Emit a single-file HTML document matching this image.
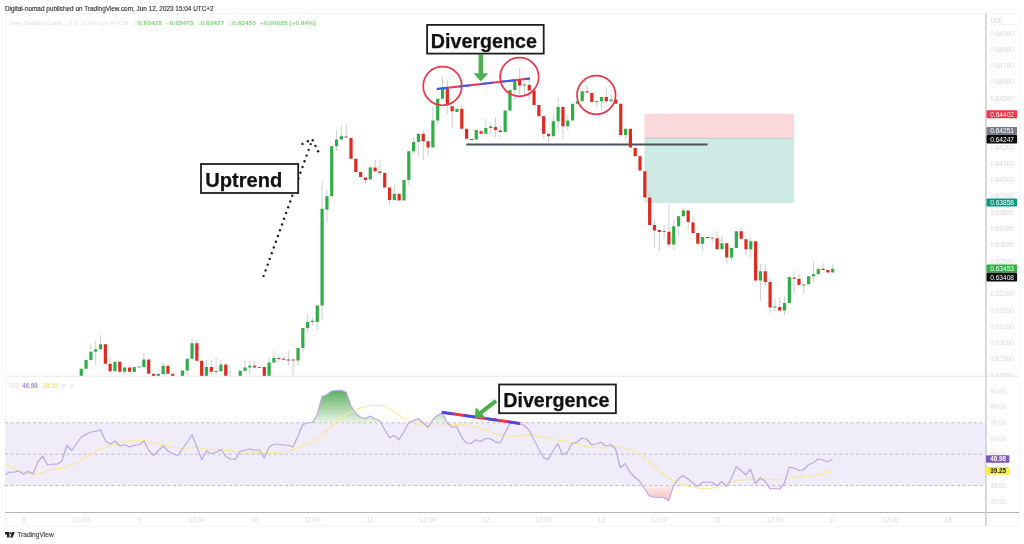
<!DOCTYPE html>
<html><head><meta charset="utf-8"><title>chart</title>
<style>
html,body{margin:0;padding:0;background:#fff;}
body{width:1024px;height:544px;overflow:hidden;font-family:"Liberation Sans",sans-serif;}
svg{display:block;filter:blur(0.55px);}
text{font-family:"Liberation Sans",sans-serif;}
</style></head><body>
<svg width="1024" height="544" viewBox="0 0 1024 544">
<defs>
<linearGradient id="og" x1="0" y1="390" x2="0" y2="422.75" gradientUnits="userSpaceOnUse"><stop offset="0" stop-color="#5aae5e"/><stop offset="1" stop-color="#e9f5e6"/></linearGradient>
<linearGradient id="ug" x1="0" y1="485.5" x2="0" y2="501" gradientUnits="userSpaceOnUse"><stop offset="0" stop-color="#fdeeee"/><stop offset="1" stop-color="#f7b9bd"/></linearGradient>
<clipPath id="cp"><rect x="5" y="14" width="981" height="362"/></clipPath>
<clipPath id="c70"><rect x="5" y="376" width="981" height="46.75"/></clipPath>
<clipPath id="c30"><rect x="5" y="485.5" width="981" height="26.5"/></clipPath>
</defs>
<rect width="1024" height="544" fill="#fff"/>
<!-- frame -->
<rect x="5.5" y="13.5" width="1013.5" height="512.5" fill="none" stroke="#f4f4f7" stroke-width="1"/>
<line x1="5" y1="376.3" x2="1019" y2="376.3" stroke="#eeeef2" stroke-width="1"/>
<line x1="985.9" y1="13.5" x2="985.9" y2="526" stroke="#d6d6da" stroke-width="1.5"/>
<line x1="5" y1="512.5" x2="1019" y2="512.5" stroke="#b4b5b9" stroke-width="1.1"/>
<!-- header -->
<text x="5" y="11.3" font-size="6.5" fill="#2a2a2a" stroke="#2a2a2a" stroke-width="0.12" textLength="208.6" lengthAdjust="spacingAndGlyphs">Digital-nomad published on TradingView.com, Jun 12, 2023 15:04 UTC+2</text>
<g font-size="6" fill="#dddde1" lengthAdjust="spacingAndGlyphs"><text x="9.3" y="24.7" textLength="119" lengthAdjust="spacingAndGlyphs">New Zealand Dollar / U.S. Dollar, 1h, FXCM</text>
<text x="133.6" y="24.7">O</text><text x="166" y="24.7">H</text><text x="197.4" y="24.7">L</text><text x="228.2" y="24.7">C</text></g>
<g font-size="6" fill="#74d873" font-weight="bold"><text x="138" y="24.7" textLength="24" lengthAdjust="spacingAndGlyphs">0.63428</text><text x="169.7" y="24.7" textLength="23.8" lengthAdjust="spacingAndGlyphs">0.63473</text><text x="200.4" y="24.7" textLength="23.8" lengthAdjust="spacingAndGlyphs">0.63427</text><text x="232.3" y="24.7" textLength="23.6" lengthAdjust="spacingAndGlyphs">0.63453</text><text x="260.1" y="24.7" textLength="55.8" lengthAdjust="spacingAndGlyphs">+0.00025 (+0.04%)</text></g>
<!-- position tool -->
<rect x="644.5" y="113.75" width="149.5" height="24.5" fill="#fbd8dc"/>
<rect x="644.5" y="138.25" width="149.5" height="64.75" fill="#cdeae4"/>
<line x1="644.5" y1="138.25" x2="794" y2="138.25" stroke="#b9bfc4" stroke-width="0.8"/>
<!-- support line -->
<line x1="466.3" y1="144.4" x2="707.5" y2="144.4" stroke="#4b5058" stroke-width="2"/>
<!-- candles -->
<g clip-path="url(#cp)">
<path d="M90.88 344.50V360.00M95.70 341.00V365.00M100.52 335.00V350.00M110.15 358.00V375.00M124.60 367.50V375.00M143.87 353.00V367.50M163.14 362.50V374.25M187.22 358.75V375.00M192.04 337.50V358.75M196.86 340.00V360.75M206.49 360.00V376.00M211.31 359.50V375.00M216.13 357.00V375.00M220.94 360.00V371.25M230.58 370.75V376.00M245.03 359.50V370.75M249.84 361.00V375.00M254.66 361.00V368.75M269.11 357.50V376.00M273.93 351.00V363.75M278.75 356.00V362.50M283.56 357.00V360.00M288.38 351.00V365.50M293.20 358.75V375.00M298.01 348.00V366.00M302.83 328.00V353.00M307.65 313.75V333.75M312.47 318.00V325.00M317.28 305.50V330.00M322.10 181.00V318.75M326.92 190.00V222.50M336.55 130.00V151.00M341.37 126.00V140.00M346.19 123.75V137.50M365.45 177.50V183.75M370.27 165.00V179.50M375.09 160.00V172.50M379.90 159.50V175.00M389.54 187.50V205.00M394.36 185.00V201.00M408.81 151.25V185.00M413.62 137.50V153.75M418.44 133.75V156.00M423.26 130.00V160.00M428.07 141.25V156.00M432.89 107.50V147.50M437.71 98.75V125.00M442.53 77.50V100.00M447.34 80.00V113.75M452.16 106.25V128.75M461.79 105.00V128.75M481.06 130.00V133.75M485.88 118.75V133.75M490.69 123.75V133.75M495.51 117.50V137.50M500.33 126.25V137.50M509.96 90.00V111.25M514.78 80.00V100.00M519.60 67.50V95.00M524.41 77.50V95.00M529.23 80.00V100.00M543.68 116.25V138.75M548.50 133.75V142.50M553.32 113.75V136.25M558.13 97.50V130.00M562.95 107.00V138.75M567.77 115.00V130.00M582.22 87.50V101.25M587.04 83.75V92.50M596.67 101.00V106.25M601.49 97.00V110.00M606.30 87.50V102.50M611.12 93.75V101.25M620.75 103.75V137.50M625.57 128.75V138.75M649.66 191.00V225.00M654.47 218.75V247.50M659.29 230.00V251.25M664.11 225.00V238.75M668.92 203.75V247.50M673.74 220.00V250.00M678.56 216.25V237.50M683.38 207.50V216.25M688.19 210.50V230.00M693.01 216.25V233.00M702.64 237.00V251.25M712.28 237.50V242.50M717.09 231.25V249.25M721.91 236.25V249.25M726.73 243.25V263.75M731.55 248.00V260.00M741.18 227.50V238.75M746.00 239.25V255.50M750.81 237.50V258.75M760.45 263.75V301.25M765.26 263.75V286.25M770.08 278.75V312.50M774.90 298.75V311.25M779.72 297.50V311.25M784.53 296.25V315.00M794.17 271.25V293.75M798.98 273.75V285.00M803.80 284.50V293.75M813.43 261.25V282.50M823.07 263.25V270.00M832.70 264.50V272.50" stroke="#cdcfd3" stroke-width="1" fill="none"/>
<path d="M79.65 368.75h3.2v7.25h-3.2zM84.47 360.00h3.2v8.75h-3.2zM89.28 351.75h3.2v8.25h-3.2zM94.10 349.25h3.2v2.50h-3.2zM98.92 344.25h3.2v5.00h-3.2zM113.37 361.75h3.2v9.50h-3.2zM123.00 367.50h3.2v4.25h-3.2zM132.64 367.00h3.2v5.00h-3.2zM137.45 366.50h3.2v1.00h-3.2zM142.27 359.50h3.2v7.50h-3.2zM156.72 373.75h3.2v2.25h-3.2zM161.54 365.75h3.2v8.50h-3.2zM180.81 370.50h3.2v5.50h-3.2zM185.62 358.75h3.2v11.75h-3.2zM190.44 343.25h3.2v15.50h-3.2zM204.89 367.00h3.2v9.00h-3.2zM214.53 371.00h3.2v1.00h-3.2zM219.34 364.50h3.2v6.75h-3.2zM238.61 370.75h3.2v5.25h-3.2zM243.43 367.50h3.2v3.25h-3.2zM248.25 365.75h3.2v1.75h-3.2zM257.88 367.00h3.2v1.00h-3.2zM267.51 362.50h3.2v13.50h-3.2zM272.33 358.00h3.2v4.50h-3.2zM296.41 348.00h3.2v12.50h-3.2zM301.23 328.00h3.2v20.00h-3.2zM306.05 322.00h3.2v6.00h-3.2zM310.87 320.75h3.2v1.25h-3.2zM315.68 305.50h3.2v16.50h-3.2zM320.50 208.75h3.2v96.75h-3.2zM325.32 196.25h3.2v13.25h-3.2zM330.13 146.25h3.2v50.00h-3.2zM334.95 139.50h3.2v6.75h-3.2zM339.77 136.25h3.2v3.25h-3.2zM368.67 167.50h3.2v12.00h-3.2zM392.75 193.75h3.2v6.25h-3.2zM402.39 180.00h3.2v20.50h-3.2zM407.21 151.25h3.2v28.75h-3.2zM412.02 142.00h3.2v9.25h-3.2zM416.84 133.75h3.2v8.25h-3.2zM431.29 120.50h3.2v27.00h-3.2zM436.11 98.75h3.2v21.75h-3.2zM440.93 88.75h3.2v10.00h-3.2zM455.38 108.75h3.2v3.25h-3.2zM474.64 130.00h3.2v9.50h-3.2zM484.28 128.00h3.2v5.75h-3.2zM489.09 126.25h3.2v1.75h-3.2zM503.55 110.50h3.2v21.50h-3.2zM508.36 90.00h3.2v20.50h-3.2zM513.18 80.00h3.2v10.00h-3.2zM522.81 84.50h3.2v1.00h-3.2zM551.72 121.25h3.2v15.00h-3.2zM556.53 107.00h3.2v14.25h-3.2zM566.17 120.50h3.2v5.75h-3.2zM570.98 103.75h3.2v16.75h-3.2zM575.80 101.25h3.2v2.50h-3.2zM580.62 91.25h3.2v10.00h-3.2zM595.07 101.00h3.2v1.00h-3.2zM599.89 97.00h3.2v4.25h-3.2zM609.52 99.50h3.2v1.75h-3.2zM623.97 128.75h3.2v6.25h-3.2zM662.51 231.00h3.2v1.00h-3.2zM672.14 226.25h3.2v18.25h-3.2zM676.96 216.25h3.2v10.00h-3.2zM681.77 210.50h3.2v5.75h-3.2zM701.04 237.00h3.2v6.75h-3.2zM710.68 237.50h3.2v1.00h-3.2zM720.31 243.25h3.2v6.00h-3.2zM729.95 248.00h3.2v9.50h-3.2zM734.76 231.25h3.2v16.75h-3.2zM749.21 241.25h3.2v8.00h-3.2zM758.85 271.25h3.2v9.25h-3.2zM773.30 306.50h3.2v1.00h-3.2zM782.93 303.00h3.2v7.50h-3.2zM787.75 277.00h3.2v26.00h-3.2zM802.20 284.50h3.2v1.00h-3.2zM807.02 276.25h3.2v8.00h-3.2zM811.83 274.25h3.2v2.00h-3.2zM816.65 268.75h3.2v5.50h-3.2zM831.10 268.75h3.2v3.75h-3.2z" fill="#2fae45"/>
<path d="M103.74 344.25h3.2v19.50h-3.2zM108.55 363.75h3.2v7.50h-3.2zM118.19 361.75h3.2v10.00h-3.2zM127.82 367.50h3.2v4.25h-3.2zM147.09 359.50h3.2v14.25h-3.2zM151.91 373.75h3.2v2.25h-3.2zM166.36 365.75h3.2v8.00h-3.2zM171.17 373.75h3.2v2.25h-3.2zM195.26 343.25h3.2v17.50h-3.2zM200.08 360.75h3.2v15.25h-3.2zM209.71 367.00h3.2v4.75h-3.2zM224.16 364.50h3.2v11.50h-3.2zM253.06 365.75h3.2v1.75h-3.2zM262.70 367.00h3.2v9.00h-3.2zM277.15 358.00h3.2v1.00h-3.2zM281.96 358.75h3.2v1.00h-3.2zM286.78 359.50h3.2v1.00h-3.2zM291.60 359.50h3.2v1.00h-3.2zM344.58 136.50h3.2v1.00h-3.2zM349.40 138.00h3.2v20.75h-3.2zM354.22 158.75h3.2v13.25h-3.2zM359.04 172.00h3.2v5.00h-3.2zM363.85 177.50h3.2v2.50h-3.2zM373.49 167.50h3.2v3.75h-3.2zM378.30 171.50h3.2v1.50h-3.2zM383.12 173.00h3.2v14.50h-3.2zM387.94 187.50h3.2v12.50h-3.2zM397.57 193.75h3.2v6.75h-3.2zM421.66 133.75h3.2v7.50h-3.2zM426.47 141.25h3.2v6.25h-3.2zM445.74 88.75h3.2v16.25h-3.2zM450.56 106.25h3.2v5.00h-3.2zM460.19 108.75h3.2v20.00h-3.2zM465.01 128.75h3.2v10.00h-3.2zM469.83 139.00h3.2v1.00h-3.2zM479.46 131.25h3.2v2.50h-3.2zM493.91 127.00h3.2v3.00h-3.2zM498.73 130.50h3.2v1.50h-3.2zM518.00 80.00h3.2v5.50h-3.2zM527.63 85.00h3.2v5.50h-3.2zM532.45 90.50h3.2v14.50h-3.2zM537.26 105.00h3.2v11.25h-3.2zM542.08 116.25h3.2v17.50h-3.2zM546.90 133.75h3.2v2.50h-3.2zM561.35 107.00h3.2v19.25h-3.2zM585.44 91.25h3.2v1.25h-3.2zM590.25 93.00h3.2v9.00h-3.2zM604.70 97.00h3.2v4.25h-3.2zM614.34 99.50h3.2v4.25h-3.2zM619.15 103.75h3.2v31.25h-3.2zM628.79 128.75h3.2v18.75h-3.2zM633.61 148.00h3.2v8.25h-3.2zM638.42 156.25h3.2v14.25h-3.2zM643.24 171.25h3.2v26.25h-3.2zM648.06 197.50h3.2v27.50h-3.2zM652.87 225.00h3.2v5.50h-3.2zM657.69 230.00h3.2v2.00h-3.2zM667.32 231.75h3.2v12.75h-3.2zM686.59 210.50h3.2v11.50h-3.2zM691.41 222.50h3.2v10.50h-3.2zM696.23 233.00h3.2v10.75h-3.2zM705.86 237.00h3.2v1.00h-3.2zM715.49 238.25h3.2v11.00h-3.2zM725.13 243.25h3.2v14.25h-3.2zM739.58 231.25h3.2v7.50h-3.2zM744.40 239.25h3.2v10.00h-3.2zM754.03 241.25h3.2v39.25h-3.2zM763.66 271.25h3.2v10.75h-3.2zM768.48 282.00h3.2v25.50h-3.2zM778.12 307.00h3.2v3.50h-3.2zM792.57 277.50h3.2v1.25h-3.2zM797.38 278.75h3.2v6.25h-3.2zM821.47 268.75h3.2v1.25h-3.2zM826.28 270.00h3.2v2.50h-3.2z" fill="#df2a20"/>
</g>
<!-- divergence line price -->
<line x1="436.9" y1="89" x2="530" y2="78.5" stroke="#f0334a" stroke-width="1.9"/>
<line x1="436.9" y1="89" x2="530" y2="78.5" stroke="#2f62ff" stroke-width="1.9" stroke-dasharray="11.3 10.7 11.9 10.1 12 8.8 13.8 10.1 10"/>
<!-- circles -->
<g fill="none" stroke="#ec3549" stroke-width="1.7"><circle cx="442.5" cy="86" r="19.3"/><circle cx="519.4" cy="77" r="19.3"/><circle cx="596.3" cy="95" r="19.3"/></g>
<!-- green arrow top -->
<path d="M478.6 54.5h4.6v18.8h5l-7.3 8.3l-7.3-8.3h5z" fill="#4caf50"/>
<!-- dotted arrow -->
<g fill="#1c1c1c"><circle cx="310.70" cy="144.10" r="1.2"/><circle cx="308.65" cy="149.84" r="1.2"/><circle cx="306.60" cy="155.58" r="1.2"/><circle cx="304.55" cy="161.32" r="1.2"/><circle cx="302.50" cy="167.06" r="1.2"/><circle cx="300.45" cy="172.80" r="1.2"/><circle cx="298.40" cy="178.54" r="1.2"/><circle cx="296.35" cy="184.28" r="1.2"/><circle cx="294.30" cy="190.02" r="1.2"/><circle cx="292.25" cy="195.76" r="1.2"/><circle cx="290.20" cy="201.50" r="1.2"/><circle cx="288.15" cy="207.24" r="1.2"/><circle cx="286.10" cy="212.98" r="1.2"/><circle cx="284.05" cy="218.72" r="1.2"/><circle cx="282.00" cy="224.46" r="1.2"/><circle cx="279.95" cy="230.20" r="1.2"/><circle cx="277.90" cy="235.94" r="1.2"/><circle cx="275.85" cy="241.68" r="1.2"/><circle cx="273.80" cy="247.42" r="1.2"/><circle cx="271.75" cy="253.16" r="1.2"/><circle cx="269.70" cy="258.90" r="1.2"/><circle cx="267.65" cy="264.64" r="1.2"/><circle cx="265.60" cy="270.38" r="1.2"/><circle cx="263.55" cy="276.12" r="1.2"/><circle cx="312.70" cy="140.25" r="1.2"/><circle cx="307.90" cy="141.20" r="1.2"/><circle cx="302.50" cy="143.90" r="1.2"/><circle cx="315.50" cy="146.00" r="1.2"/><circle cx="318.10" cy="151.20" r="1.2"/></g>
<!-- labels -->
<g fill="#fff" stroke="#1e1e1e" stroke-width="1.8"><rect x="427.1" y="24.9" width="116.6" height="28.7"/><rect x="201" y="164" width="97.2" height="29"/><rect x="499.1" y="384.5" width="116.8" height="28.7"/></g>
<g font-weight="bold" font-size="19.7" fill="#111" stroke="#111" stroke-width="0.25"><text x="430.8" y="47.7">Divergence</text><text x="205.2" y="187" font-size="20.1">Uptrend</text><text x="503.2" y="406.8">Divergence</text></g>
<!-- RSI -->
<rect x="5" y="422.75" width="980" height="62.75" fill="#f0ecfa"/>
<g clip-path="url(#c70)"><polygon points="5.50,474.75 8.75,472.25 13.75,472.25 18.25,471.00 23.75,474.25 28.25,471.25 33.00,474.00 38.00,461.75 42.75,456.00 47.50,465.00 52.50,464.00 57.25,464.25 62.00,461.00 66.75,445.25 71.75,450.50 76.50,443.50 81.25,437.25 86.25,434.25 91.00,432.00 95.75,431.25 100.50,429.75 105.50,441.00 110.25,444.25 115.00,441.00 119.75,446.00 124.75,444.75 129.50,447.00 134.25,445.25 139.00,444.75 144.00,441.00 148.75,450.25 153.50,455.50 158.50,450.50 163.25,446.00 168.00,451.00 172.75,453.75 177.75,455.50 182.50,449.00 187.25,442.25 192.00,434.75 197.00,447.25 201.75,459.75 206.50,451.00 211.25,453.50 216.25,452.25 221.00,449.50 225.75,456.50 230.50,459.00 235.25,459.50 240.25,451.50 245.00,450.00 250.00,449.00 254.50,450.25 259.25,449.75 264.25,458.00 269.00,447.25 273.75,444.25 278.75,444.25 283.50,445.25 288.25,445.25 293.00,447.00 298.00,436.00 302.75,424.75 307.50,422.75 312.50,422.50 317.25,414.75 322.00,396.50 326.75,394.75 331.75,391.00 336.50,390.50 341.25,390.25 346.25,392.25 351.00,406.00 355.75,413.50 360.50,417.25 365.50,418.50 370.25,416.00 375.00,419.00 379.75,420.50 384.75,429.75 389.50,437.75 394.25,435.50 399.00,439.75 404.00,431.50 408.75,422.75 413.50,420.50 418.25,418.50 423.25,423.00 428.00,427.25 432.75,419.75 437.50,415.25 442.50,413.00 447.25,422.75 452.00,427.25 456.75,426.50 461.50,437.25 466.40,443.00 471.10,443.50 475.90,439.75 480.70,441.50 485.60,438.50 490.40,438.70 495.20,441.80 500.00,443.00 504.75,433.50 509.50,424.00 514.25,422.75 519.25,424.00 524.00,425.25 528.75,429.75 533.50,438.50 538.50,448.50 543.25,457.25 548.00,459.75 553.00,451.00 557.75,443.50 562.50,454.75 567.25,452.25 572.25,443.50 577.00,442.25 581.75,438.00 586.50,439.00 591.50,444.75 596.25,444.00 601.00,442.25 605.75,446.00 610.75,444.75 615.50,448.50 620.25,467.75 625.00,463.50 630.00,472.25 634.75,477.25 639.50,481.00 644.50,488.50 649.25,496.00 654.00,497.25 658.75,497.25 663.75,497.75 668.60,500.50 673.40,486.00 678.20,479.00 683.00,475.50 688.00,479.00 692.75,483.00 697.50,486.50 702.50,482.00 707.25,482.25 712.00,482.25 717.00,486.00 721.75,481.50 726.50,486.50 731.25,478.50 736.25,466.75 741.00,470.50 745.75,474.75 750.50,469.25 755.50,483.50 760.25,478.00 765.00,481.00 770.00,489.00 774.75,488.50 779.50,489.25 784.25,483.50 789.25,467.25 794.00,468.00 798.75,470.50 803.50,469.75 808.50,464.75 813.25,462.75 818.00,459.00 822.75,460.00 827.75,461.75 832.50,459.00 832.5,422.75 5.5,422.75" fill="url(#og)"/></g>
<g clip-path="url(#c30)"><polygon points="5.50,474.75 8.75,472.25 13.75,472.25 18.25,471.00 23.75,474.25 28.25,471.25 33.00,474.00 38.00,461.75 42.75,456.00 47.50,465.00 52.50,464.00 57.25,464.25 62.00,461.00 66.75,445.25 71.75,450.50 76.50,443.50 81.25,437.25 86.25,434.25 91.00,432.00 95.75,431.25 100.50,429.75 105.50,441.00 110.25,444.25 115.00,441.00 119.75,446.00 124.75,444.75 129.50,447.00 134.25,445.25 139.00,444.75 144.00,441.00 148.75,450.25 153.50,455.50 158.50,450.50 163.25,446.00 168.00,451.00 172.75,453.75 177.75,455.50 182.50,449.00 187.25,442.25 192.00,434.75 197.00,447.25 201.75,459.75 206.50,451.00 211.25,453.50 216.25,452.25 221.00,449.50 225.75,456.50 230.50,459.00 235.25,459.50 240.25,451.50 245.00,450.00 250.00,449.00 254.50,450.25 259.25,449.75 264.25,458.00 269.00,447.25 273.75,444.25 278.75,444.25 283.50,445.25 288.25,445.25 293.00,447.00 298.00,436.00 302.75,424.75 307.50,422.75 312.50,422.50 317.25,414.75 322.00,396.50 326.75,394.75 331.75,391.00 336.50,390.50 341.25,390.25 346.25,392.25 351.00,406.00 355.75,413.50 360.50,417.25 365.50,418.50 370.25,416.00 375.00,419.00 379.75,420.50 384.75,429.75 389.50,437.75 394.25,435.50 399.00,439.75 404.00,431.50 408.75,422.75 413.50,420.50 418.25,418.50 423.25,423.00 428.00,427.25 432.75,419.75 437.50,415.25 442.50,413.00 447.25,422.75 452.00,427.25 456.75,426.50 461.50,437.25 466.40,443.00 471.10,443.50 475.90,439.75 480.70,441.50 485.60,438.50 490.40,438.70 495.20,441.80 500.00,443.00 504.75,433.50 509.50,424.00 514.25,422.75 519.25,424.00 524.00,425.25 528.75,429.75 533.50,438.50 538.50,448.50 543.25,457.25 548.00,459.75 553.00,451.00 557.75,443.50 562.50,454.75 567.25,452.25 572.25,443.50 577.00,442.25 581.75,438.00 586.50,439.00 591.50,444.75 596.25,444.00 601.00,442.25 605.75,446.00 610.75,444.75 615.50,448.50 620.25,467.75 625.00,463.50 630.00,472.25 634.75,477.25 639.50,481.00 644.50,488.50 649.25,496.00 654.00,497.25 658.75,497.25 663.75,497.75 668.60,500.50 673.40,486.00 678.20,479.00 683.00,475.50 688.00,479.00 692.75,483.00 697.50,486.50 702.50,482.00 707.25,482.25 712.00,482.25 717.00,486.00 721.75,481.50 726.50,486.50 731.25,478.50 736.25,466.75 741.00,470.50 745.75,474.75 750.50,469.25 755.50,483.50 760.25,478.00 765.00,481.00 770.00,489.00 774.75,488.50 779.50,489.25 784.25,483.50 789.25,467.25 794.00,468.00 798.75,470.50 803.50,469.75 808.50,464.75 813.25,462.75 818.00,459.00 822.75,460.00 827.75,461.75 832.50,459.00 832.5,485.5 5.5,485.5" fill="url(#ug)"/></g>
<g stroke="#b8b9bd" stroke-width="0.9" stroke-dasharray="3 2.6"><line x1="5" y1="422.75" x2="985" y2="422.75"/><line x1="5" y1="454.2" x2="985" y2="454.2"/><line x1="5" y1="485.5" x2="985" y2="485.5"/></g>
<path d="M5.50 464.75C7.08 465.46 11.75 467.75 15.00 469.00C18.25 470.25 21.25 471.38 25.00 472.25C28.75 473.12 33.75 474.58 37.50 474.25C41.25 473.92 43.33 471.29 47.50 470.25C51.67 469.21 57.92 469.12 62.50 468.00C67.08 466.88 70.83 465.50 75.00 463.50C79.17 461.50 83.33 458.38 87.50 456.00C91.67 453.62 95.83 451.00 100.00 449.25C104.17 447.50 108.33 446.75 112.50 445.50C116.67 444.25 120.83 442.54 125.00 441.75C129.17 440.96 134.17 440.96 137.50 440.75C140.83 440.54 142.08 440.12 145.00 440.50C147.92 440.88 150.83 441.96 155.00 443.00C159.17 444.04 165.42 445.83 170.00 446.75C174.58 447.67 178.33 448.38 182.50 448.50C186.67 448.62 190.83 447.42 195.00 447.50C199.17 447.58 203.33 448.58 207.50 449.00C211.67 449.42 215.42 449.62 220.00 450.00C224.58 450.38 230.00 450.95 235.00 451.25C240.00 451.55 245.00 451.55 250.00 451.80C255.00 452.05 260.42 452.68 265.00 452.75C269.58 452.82 273.33 452.62 277.50 452.25C281.67 451.88 285.83 451.62 290.00 450.50C294.17 449.38 298.33 447.29 302.50 445.50C306.67 443.71 310.83 442.38 315.00 439.75C319.17 437.12 323.33 433.29 327.50 429.75C331.67 426.21 335.83 421.62 340.00 418.50C344.17 415.38 348.33 412.96 352.50 411.00C356.67 409.04 360.83 407.67 365.00 406.75C369.17 405.83 374.17 405.54 377.50 405.50C380.83 405.46 382.08 405.38 385.00 406.50C387.92 407.62 391.67 410.17 395.00 412.25C398.33 414.33 401.67 417.12 405.00 419.00C408.33 420.88 411.25 422.38 415.00 423.50C418.75 424.62 423.33 425.41 427.50 425.70C431.67 425.99 435.83 425.41 440.00 425.25C444.17 425.09 448.33 424.81 452.50 424.75C456.67 424.69 460.83 424.48 465.00 424.90C469.17 425.32 473.33 426.15 477.50 427.25C481.67 428.35 485.42 430.04 490.00 431.50C494.58 432.96 500.42 435.25 505.00 436.00C509.58 436.75 513.33 436.21 517.50 436.00C521.67 435.79 525.83 434.54 530.00 434.75C534.17 434.96 538.33 436.42 542.50 437.25C546.67 438.08 550.83 439.00 555.00 439.75C559.17 440.50 563.33 440.92 567.50 441.75C571.67 442.58 575.83 443.83 580.00 444.75C584.17 445.67 588.33 446.75 592.50 447.25C596.67 447.75 600.83 447.83 605.00 447.75C609.17 447.67 613.33 446.42 617.50 446.75C621.67 447.08 625.83 448.21 630.00 449.75C634.17 451.29 638.33 453.08 642.50 456.00C646.67 458.92 650.83 463.71 655.00 467.25C659.17 470.79 663.75 474.62 667.50 477.25C671.25 479.88 674.17 481.54 677.50 483.00C680.83 484.46 684.17 485.17 687.50 486.00C690.83 486.83 694.17 487.58 697.50 488.00C700.83 488.42 704.17 488.62 707.50 488.50C710.83 488.38 714.17 488.00 717.50 487.25C720.83 486.50 724.58 485.04 727.50 484.00C730.42 482.96 732.08 481.71 735.00 481.00C737.92 480.29 741.67 480.04 745.00 479.75C748.33 479.46 751.67 479.38 755.00 479.25C758.33 479.12 761.67 478.92 765.00 479.00C768.33 479.08 771.67 479.71 775.00 479.75C778.33 479.79 781.67 479.67 785.00 479.25C788.33 478.83 791.67 477.67 795.00 477.25C798.33 476.83 801.67 477.04 805.00 476.75C808.33 476.46 811.67 476.12 815.00 475.50C818.33 474.88 822.08 473.75 825.00 473.00C827.92 472.25 831.25 471.33 832.50 471.00" fill="none" stroke="#f9e995" stroke-width="1.25"/>
<polyline points="5.50,474.75 8.75,472.25 13.75,472.25 18.25,471.00 23.75,474.25 28.25,471.25 33.00,474.00 38.00,461.75 42.75,456.00 47.50,465.00 52.50,464.00 57.25,464.25 62.00,461.00 66.75,445.25 71.75,450.50 76.50,443.50 81.25,437.25 86.25,434.25 91.00,432.00 95.75,431.25 100.50,429.75 105.50,441.00 110.25,444.25 115.00,441.00 119.75,446.00 124.75,444.75 129.50,447.00 134.25,445.25 139.00,444.75 144.00,441.00 148.75,450.25 153.50,455.50 158.50,450.50 163.25,446.00 168.00,451.00 172.75,453.75 177.75,455.50 182.50,449.00 187.25,442.25 192.00,434.75 197.00,447.25 201.75,459.75 206.50,451.00 211.25,453.50 216.25,452.25 221.00,449.50 225.75,456.50 230.50,459.00 235.25,459.50 240.25,451.50 245.00,450.00 250.00,449.00 254.50,450.25 259.25,449.75 264.25,458.00 269.00,447.25 273.75,444.25 278.75,444.25 283.50,445.25 288.25,445.25 293.00,447.00 298.00,436.00 302.75,424.75 307.50,422.75 312.50,422.50 317.25,414.75 322.00,396.50 326.75,394.75 331.75,391.00 336.50,390.50 341.25,390.25 346.25,392.25 351.00,406.00 355.75,413.50 360.50,417.25 365.50,418.50 370.25,416.00 375.00,419.00 379.75,420.50 384.75,429.75 389.50,437.75 394.25,435.50 399.00,439.75 404.00,431.50 408.75,422.75 413.50,420.50 418.25,418.50 423.25,423.00 428.00,427.25 432.75,419.75 437.50,415.25 442.50,413.00 447.25,422.75 452.00,427.25 456.75,426.50 461.50,437.25 466.40,443.00 471.10,443.50 475.90,439.75 480.70,441.50 485.60,438.50 490.40,438.70 495.20,441.80 500.00,443.00 504.75,433.50 509.50,424.00 514.25,422.75 519.25,424.00 524.00,425.25 528.75,429.75 533.50,438.50 538.50,448.50 543.25,457.25 548.00,459.75 553.00,451.00 557.75,443.50 562.50,454.75 567.25,452.25 572.25,443.50 577.00,442.25 581.75,438.00 586.50,439.00 591.50,444.75 596.25,444.00 601.00,442.25 605.75,446.00 610.75,444.75 615.50,448.50 620.25,467.75 625.00,463.50 630.00,472.25 634.75,477.25 639.50,481.00 644.50,488.50 649.25,496.00 654.00,497.25 658.75,497.25 663.75,497.75 668.60,500.50 673.40,486.00 678.20,479.00 683.00,475.50 688.00,479.00 692.75,483.00 697.50,486.50 702.50,482.00 707.25,482.25 712.00,482.25 717.00,486.00 721.75,481.50 726.50,486.50 731.25,478.50 736.25,466.75 741.00,470.50 745.75,474.75 750.50,469.25 755.50,483.50 760.25,478.00 765.00,481.00 770.00,489.00 774.75,488.50 779.50,489.25 784.25,483.50 789.25,467.25 794.00,468.00 798.75,470.50 803.50,469.75 808.50,464.75 813.25,462.75 818.00,459.00 822.75,460.00 827.75,461.75 832.50,459.00" fill="none" stroke="#b9a8e4" stroke-width="1.2" stroke-linejoin="round"/>
<g font-size="6.3"><text x="9.3" y="387.7" fill="#dcdce0">RSI</text><text x="22" y="387.7" fill="#a58fe0" font-weight="bold">46.98</text><text x="42.5" y="387.7" fill="#f7e66b" font-weight="bold">39.25</text><text x="62" y="387.6" fill="#dcdce0" font-size="6.4" font-style="italic">ø</text><text x="70.2" y="387.6" fill="#dcdce0" font-size="6.4" font-style="italic">ø</text></g>
<!-- divergence line rsi -->
<line x1="441.6" y1="412.3" x2="520.2" y2="423.5" stroke="#f0334a" stroke-width="3.0"/>
<line x1="441.9" y1="412.35" x2="519.6" y2="423.4" stroke="#3a4cf0" stroke-width="2.5" stroke-dasharray="11.4 10.6 11.8 10.6 11.6 11 12"/>
<!-- green arrow rsi -->
<path d="M496 400.8L480.6 412.8" stroke="#4caf50" stroke-width="4.2" fill="none"/>
<path d="M475.1 417.4L476.1 407.8L485 417.4z" fill="#4caf50" stroke="#4caf50" stroke-width="0.6" stroke-linejoin="round"/>
<!-- axis labels -->
<line x1="986" y1="24.4" x2="1019" y2="24.4" stroke="#f4f4f7" stroke-width="0.8"/>
<g font-size="6.6" fill="#d8d9dd">
<text x="990.8" y="22.6" textLength="12.4" lengthAdjust="spacingAndGlyphs">USD</text>
<text x="990.2" y="35.50" textLength="23.8" lengthAdjust="spacingAndGlyphs">0.64900</text><text x="990.2" y="51.80" textLength="23.8" lengthAdjust="spacingAndGlyphs">0.64800</text><text x="990.2" y="68.09" textLength="23.8" lengthAdjust="spacingAndGlyphs">0.64700</text><text x="990.2" y="84.39" textLength="23.8" lengthAdjust="spacingAndGlyphs">0.64600</text><text x="990.2" y="100.68" textLength="23.8" lengthAdjust="spacingAndGlyphs">0.64500</text><text x="990.2" y="116.98" textLength="23.8" lengthAdjust="spacingAndGlyphs">0.64400</text><text x="990.2" y="133.27" textLength="23.8" lengthAdjust="spacingAndGlyphs">0.64300</text><text x="990.2" y="149.57" textLength="23.8" lengthAdjust="spacingAndGlyphs">0.64200</text><text x="990.2" y="165.86" textLength="23.8" lengthAdjust="spacingAndGlyphs">0.64100</text><text x="990.2" y="182.16" textLength="23.8" lengthAdjust="spacingAndGlyphs">0.64000</text><text x="990.2" y="198.45" textLength="23.8" lengthAdjust="spacingAndGlyphs">0.63900</text><text x="990.2" y="214.75" textLength="23.8" lengthAdjust="spacingAndGlyphs">0.63800</text><text x="990.2" y="231.04" textLength="23.8" lengthAdjust="spacingAndGlyphs">0.63700</text><text x="990.2" y="247.34" textLength="23.8" lengthAdjust="spacingAndGlyphs">0.63600</text><text x="990.2" y="263.63" textLength="23.8" lengthAdjust="spacingAndGlyphs">0.63500</text><text x="990.2" y="279.93" textLength="23.8" lengthAdjust="spacingAndGlyphs">0.63400</text><text x="990.2" y="296.22" textLength="23.8" lengthAdjust="spacingAndGlyphs">0.63300</text><text x="990.2" y="312.52" textLength="23.8" lengthAdjust="spacingAndGlyphs">0.63200</text><text x="990.2" y="328.81" textLength="23.8" lengthAdjust="spacingAndGlyphs">0.63100</text><text x="990.2" y="345.11" textLength="23.8" lengthAdjust="spacingAndGlyphs">0.63000</text><text x="990.2" y="361.40" textLength="23.8" lengthAdjust="spacingAndGlyphs">0.62900</text><text x="990.2" y="377.70" textLength="23.8" lengthAdjust="spacingAndGlyphs">0.62800</text>
<text x="990.2" y="393.74" textLength="16" lengthAdjust="spacingAndGlyphs">90.00</text><text x="990.2" y="409.43" textLength="16" lengthAdjust="spacingAndGlyphs">80.00</text><text x="990.2" y="425.12" textLength="16" lengthAdjust="spacingAndGlyphs">70.00</text><text x="990.2" y="440.81" textLength="16" lengthAdjust="spacingAndGlyphs">60.00</text><text x="990.2" y="456.50" textLength="16" lengthAdjust="spacingAndGlyphs">50.00</text><text x="990.2" y="472.19" textLength="16" lengthAdjust="spacingAndGlyphs">40.00</text><text x="990.2" y="487.88" textLength="16" lengthAdjust="spacingAndGlyphs">30.00</text><text x="990.2" y="503.57" textLength="16" lengthAdjust="spacingAndGlyphs">20.00</text>
<text x="23.4" y="522" text-anchor="middle">8</text><text x="81.2" y="522" text-anchor="middle">12:00</text><text x="139.0" y="522" text-anchor="middle">9</text><text x="196.8" y="522" text-anchor="middle">12:00</text><text x="254.6" y="522" text-anchor="middle">10</text><text x="312.4" y="522" text-anchor="middle">12:00</text><text x="370.2" y="522" text-anchor="middle">11</text><text x="428.0" y="522" text-anchor="middle">12:00</text><text x="485.8" y="522" text-anchor="middle">12</text><text x="543.6" y="522" text-anchor="middle">12:00</text><text x="601.4" y="522" text-anchor="middle">15</text><text x="659.2" y="522" text-anchor="middle">12:00</text><text x="717.0" y="522" text-anchor="middle">16</text><text x="774.8" y="522" text-anchor="middle">12:00</text><text x="832.6" y="522" text-anchor="middle">17</text><text x="890.4" y="522" text-anchor="middle">12:00</text><text x="948.2" y="522" text-anchor="middle">18</text>
</g>
<rect x="987" y="376.8" width="33" height="6" fill="#fff"/>
<line x1="5" y1="376.3" x2="1019" y2="376.3" stroke="#eeeef2" stroke-width="1"/>
<line x1="985.9" y1="13.5" x2="985.9" y2="526" stroke="#d6d6da" stroke-width="1.5"/>
<!-- price tags -->
<g font-size="6.6" fill="#fff">
<rect x="986.5" y="110.2" width="30.6" height="8" rx="1" fill="#f23645"/><text x="990.2" y="116.6">0.64402</text>
<rect x="986.5" y="127" width="30.6" height="8" rx="1" fill="#787b86"/><text x="990.2" y="133.4">0.64251</text>
<rect x="986.5" y="135" width="30.6" height="8.5" rx="1" fill="#0a0a0a"/><text x="990.2" y="141.7">0.64247</text>
<rect x="986.5" y="198.6" width="30.6" height="8" rx="1" fill="#089981"/><text x="990.2" y="205">0.63858</text>
<rect x="986.5" y="264.5" width="30.6" height="8.3" rx="1" fill="#2fae45"/><text x="990.2" y="271">0.63453</text>
<rect x="986.5" y="272.8" width="30.6" height="8.8" rx="1" fill="#0a0a0a"/><text x="990.2" y="279.6">0.63408</text>
<rect x="986" y="455.3" width="23.4" height="7.4" rx="0.8" fill="#7e57c2"/><text x="990.2" y="461.4" font-weight="bold" font-size="6.3">46.98</text>
<rect x="986" y="467.1" width="23.4" height="7.6" rx="0.8" fill="#ffeb3b"/><text x="990.2" y="473.3" font-weight="bold" font-size="6.3" fill="#222">39.25</text>
</g>
<!-- TradingView logo -->
<g fill="#1e222d"><path d="M5 532.1h4.4v5.3h-2.5v-3H5z"/><circle cx="10.7" cy="533.2" r="1.05"/><path d="M12.3 532.1h2.5l-2.2 5.3h-2.6z"/></g>
<text x="17.2" y="537.4" font-size="7" fill="#33363f" stroke="#33363f" stroke-width="0.1" textLength="36.5" lengthAdjust="spacingAndGlyphs">TradingView</text>
</svg>
</body></html>
